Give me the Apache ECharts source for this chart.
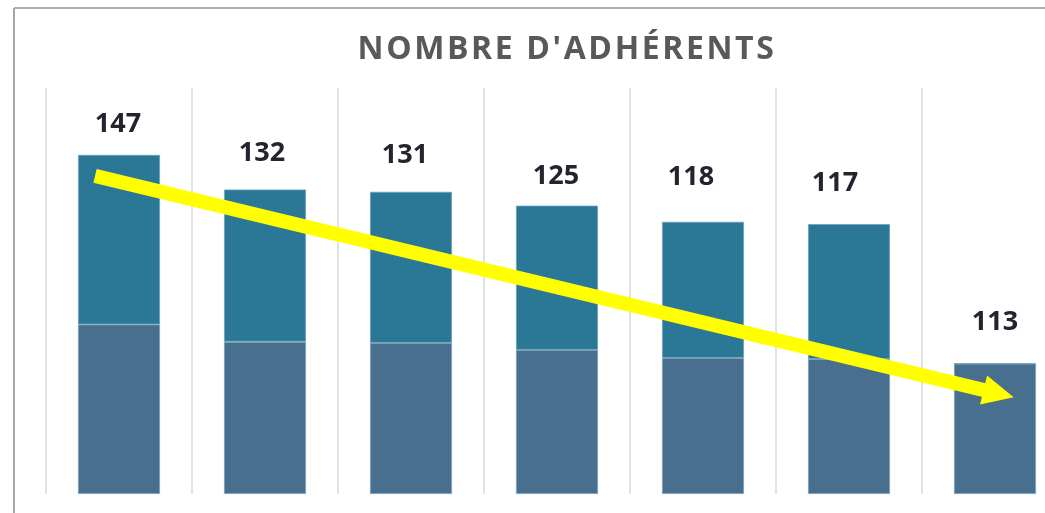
<!DOCTYPE html>
<html>
<head>
<meta charset="utf-8">
<script src="https://cdn.jsdelivr.net/npm/echarts@6/dist/echarts.min.js"></script>
<style>
html,body{margin:0;padding:0;background:#fff;}
#chart{width:1045px;height:513px;}
</style>
</head>
<body>
<div id="chart"></div>
<script>
// Data
var categories = ['1', '2', '3', '4', '5', '6', '7'];
var totals = [147, 132, 131, 125, 118, 117, 113];
var lowerPart = [73.5, 66, 65.5, 62.5, 59, 58.5, 56.5];
var upperPart = [73.5, 66, 65.5, 62.5, 59, 58.5, 0];
// Trend arrow (x in category index units, y in value units)
var arrowStart = [-0.164, 137.9];
var arrowEnd = [6.025, 43.5];

// Styling: manual label nudges (pixels) as placed in the original
var labelNudges = [[-1, 0], [-3, -6], [-6, -6], [-1, 1], [-12, -14], [-14, -10], [0, -10]];

var TITLE = "NOMBRE D'ADHÉRENTS";
(function () {
  var proto = CanvasRenderingContext2D.prototype;
  var origFill = proto.fillText;
  proto.fillText = function (t, x, y, m) {
    if (t === TITLE && 'letterSpacing' in this) {
      var prev = this.letterSpacing;
      this.letterSpacing = '2.6px';
      var r = m === undefined ? origFill.call(this, t, x, y) : origFill.call(this, t, x, y, m);
      this.letterSpacing = prev;
      return r;
    }
    return m === undefined ? origFill.call(this, t, x, y) : origFill.call(this, t, x, y, m);
  };
})();

var chart = echarts.init(document.getElementById('chart'), null, {renderer: 'canvas'});

var upperData = upperPart.map(function (v, i) {
  return {value: v, label: {offset: labelNudges[i]}};
});

var option = {
  backgroundColor: '#ffffff',
  animation: false,
  title: {
    text: TITLE,
    left: 562,
    textAlign: 'center',
    top: 29,
    textStyle: {
      fontFamily: 'Open Sans',
      fontWeight: 'bold',
      fontSize: 32,
      color: '#595959'
    }
  },
  grid: {left: 46, top: 88, width: 1022, height: 406, containLabel: false, outerBoundsMode: 'none'},
  xAxis: [
    {
      type: 'category',
      data: categories,
      axisLine: {show: false},
      axisTick: {show: false},
      axisLabel: {show: false},
      splitLine: {show: true, lineStyle: {color: '#d9d9d9', width: 1.5}}
    },
    {
      type: 'value',
      min: -0.5,
      max: 6.5,
      show: false
    }
  ],
  yAxis: {
    type: 'value',
    min: 0,
    max: 176,
    show: false,
    splitLine: {show: false}
  },
  series: [
    {
      name: 'bas',
      type: 'bar',
      stack: 'total',
      data: lowerPart,
      barWidth: 82,
      itemStyle: {color: '#486f8d', borderColor: '#7d9fbc', borderWidth: 0.8}
    },
    {
      name: 'haut',
      type: 'bar',
      stack: 'total',
      data: upperData,
      barWidth: 82,
      itemStyle: {color: '#2a7896', borderColor: '#6fa3bd', borderWidth: 0.8},
      label: {
        show: true,
        position: 'top',
        distance: 17,
        formatter: function (p) { return String(totals[p.dataIndex]); },
        fontFamily: 'Open Sans',
        fontWeight: 'bold',
        fontSize: 27,
        color: '#24242f'
      }
    },
    {
      name: 'tendance',
      type: 'scatter',
      xAxisIndex: 1,
      yAxisIndex: 0,
      data: [],
      silent: true,
      markLine: {
        silent: true,
        animation: false,
        label: {show: false},
        lineStyle: {color: '#ffff00', width: 14, type: 'solid', cap: 'butt'},
        symbolSize: [30, 31],
        data: [[
          {coord: arrowStart, symbol: 'none'},
          {coord: arrowEnd, symbol: 'triangle'}
        ]],
        emphasis: {disabled: true}
      }
    }
  ],
  graphic: [
    {type: 'line', silent: true, shape: {x1: 14, y1: 8, x2: 1045, y2: 8}, style: {stroke: '#b0b0b0', lineWidth: 2}},
    {type: 'line', silent: true, shape: {x1: 14, y1: 8, x2: 14, y2: 513}, style: {stroke: '#a6a6a6', lineWidth: 2}}
  ]
};

chart.setOption(option);
</script>
</body>
</html>
